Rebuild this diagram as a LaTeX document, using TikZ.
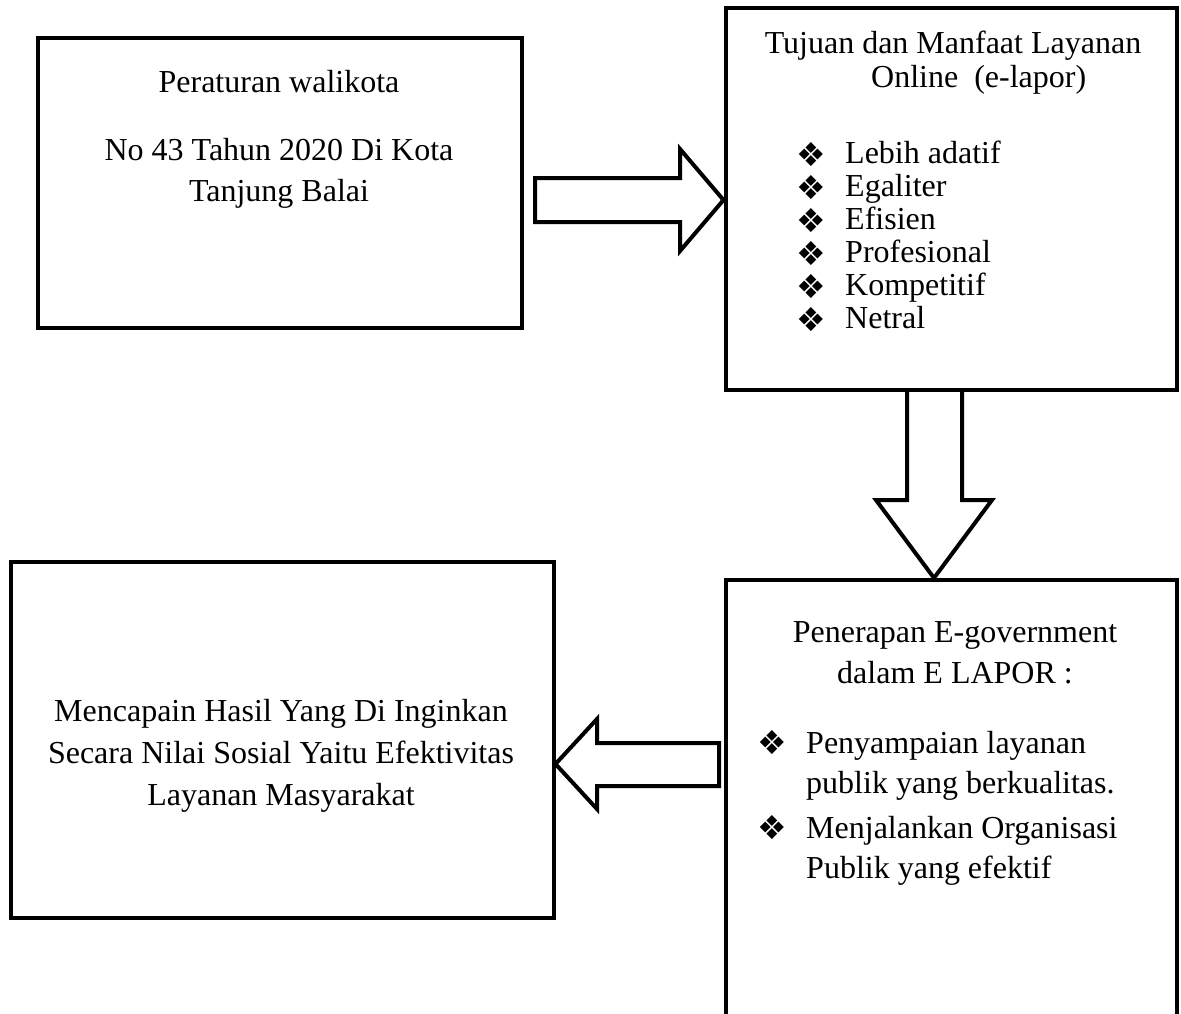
\documentclass[tikz,border=0pt]{standalone}
\usepackage{fontspec}
\setmainfont{Liberation Serif}
\newfontfamily\dejavu{DejaVu Sans}
\begin{document}
\begin{tikzpicture}[x=1pt,y=-1pt,
  box/.style={draw,line width=4pt,fill=white},
  blockarrow/.style={draw,line width=4pt,fill=white,line join=miter},
  txt/.style={anchor=base,inner sep=0pt,text height=21pt,text depth=6pt,font=\fontsize{32}{38}\selectfont},
  ltxt/.style={anchor=base west,inner sep=0pt,text height=21pt,text depth=6pt,font=\fontsize{32}{38}\selectfont},
  bul/.style={anchor=base,inner sep=0pt,text height=20pt,text depth=0pt,font=\dejavu\fontsize{33}{36}\selectfont}]
\useasboundingbox (0,0) rectangle (1181,1013);
\clip (0,0) rectangle (1181,1013);
% boxes
\node[box,minimum width=484pt,minimum height=290pt,inner sep=0pt] (b1) at (280,183) {};
\node[box,minimum width=451pt,minimum height=382pt,inner sep=0pt] (b2) at (951,199) {};
\node[box,minimum width=451pt,minimum height=460pt,inner sep=0pt] (b3) at (951,810) {};
\node[box,minimum width=543pt,minimum height=356pt,inner sep=0pt] (b4) at (282,740) {};
% arrows
\draw[blockarrow] (535,178) -- (680,178) -- (680,149) -- (b2.west |- 0,200) -- (680,251) -- (680,222) -- (535,222) -- cycle;
\draw[blockarrow] (b2.south -| 907,0) -- (907,500) -- (876,500) -- (b3.north -| 934,0) -- (992,500) -- (962,500) -- (b2.south -| 962,0);
\draw[blockarrow] (719,743) -- (597,743) -- (597,719) -- (b4.east |- 0,764) -- (597,809) -- (597,786) -- (719,786) -- cycle;
% box 1 text
\node[txt] (t1a) at (279,92) {Peraturan walikota};
\node[txt] (t1b) at (279,160) {No 43 Tahun 2020 Di Kota};
\node[txt] (t1c) at (279,201) {Tanjung Balai};
% box 2 text
\node[txt] (t2a) at (953,53) {Tujuan dan Manfaat Layanan};
\node[ltxt] (t2b) at (871,87) {Online\ \ (e-lapor)};
\foreach \i/\s in {0/Lebih adatif,1/Egaliter,2/Efisien,3/Profesional,4/Kompetitif,5/Netral}{
  \node[bul] (bl\i) at (811,{166+33*\i}) {❖};
  \node[ltxt] (li\i) at (845,{163+33*\i}) {\s};
}
% box 3 text
\node[txt] (t3a) at (955,642) {Penerapan E-government};
\node[txt] (t3b) at (955,683) {dalam E LAPOR :};
\node[bul] (bp1) at (772,754) {❖};
\node[ltxt] (p1a) at (806,753) {Penyampaian layanan};
\node[ltxt] (p1b) at (806,793) {publik yang berkualitas.};
\node[bul] (bp2) at (772,839) {❖};
\node[ltxt] (p2a) at (806,838) {Menjalankan Organisasi};
\node[ltxt] (p2b) at (806,878) {Publik yang efektif};
% box 4 text
\node[txt] (t4a) at (281,721) {Mencapain Hasil Yang Di Inginkan};
\node[txt] (t4b) at (281,763) {Secara Nilai Sosial Yaitu Efektivitas};
\node[txt] (t4c) at (281,805) {Layanan Masyarakat};
\end{tikzpicture}
\end{document}
